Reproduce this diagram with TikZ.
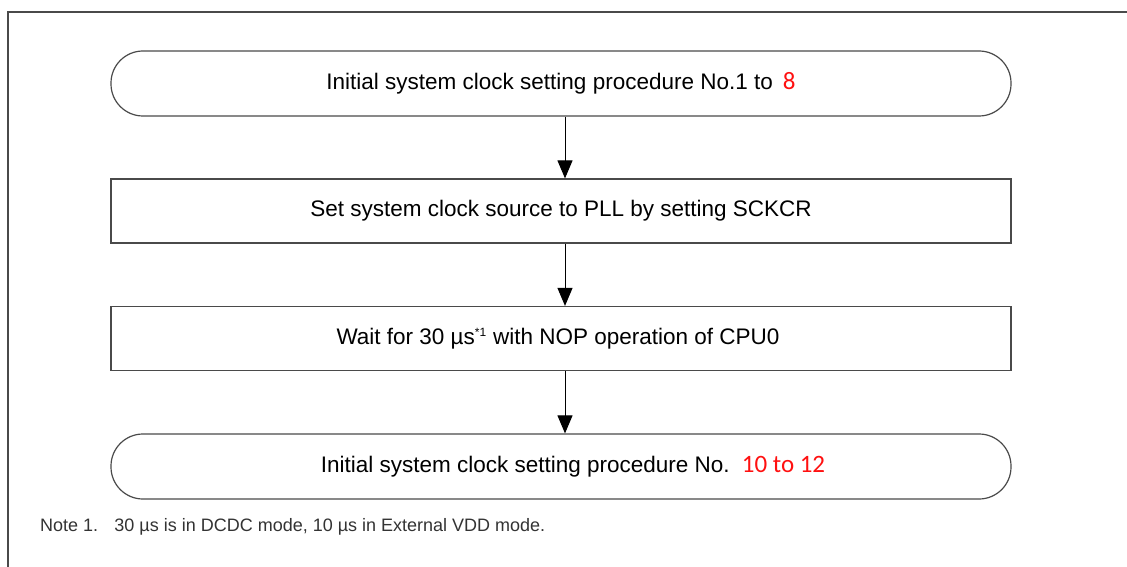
\documentclass[tikz,border=0pt]{standalone}
\usepackage{fontspec}
\setmainfont{Liberation Sans}
\newfontfamily\calib{Carlito}
\usetikzlibrary{arrows.meta}
\definecolor{lineg}{HTML}{4A4A4A}
\definecolor{redtxt}{HTML}{FF1010}
\begin{document}
\begin{tikzpicture}[x=1pt,y=-1pt,
  term/.style={draw=lineg, line width=1.2pt, rectangle, rounded corners=32pt,
    minimum width=900pt, minimum height=65pt, inner sep=0pt,
    font=\fontsize{22.5}{26}\selectfont},
  stepbox/.style={draw=lineg, line width=1.2pt, rectangle,
    minimum width=900pt, minimum height=64pt, inner sep=0pt,
    font=\fontsize{22.5}{26}\selectfont},
  flow/.style={draw=black, line width=1pt, -{Triangle[length=18pt,width=15pt]}}]
\useasboundingbox (0,0) rectangle (1127,567);
\coordinate (fl) at (8,567);
\coordinate (ftl) at (8,12);
\coordinate (fr) at (1127,12);
\draw[lineg, line width=1.2pt] (fl) -- (ftl) -- (fr);
\node[term] (a) at (561,83.5) {Initial system clock setting procedure No.1 to \,{\calib\fontsize{25}{27}\selectfont\color{redtxt}8}};
\node[stepbox] (b) at (561,211) {Set system clock source to PLL by setting SCKCR};
\node[stepbox] (c) at (561,338.5) {\hspace{-6pt}Wait for 30 µs\textsuperscript{\fontsize{12}{12}\selectfont *1} with NOP operation of CPU0};
\node[term] (d) at (561,466.5) {\hspace{24pt}Initial system clock setting procedure No. \,{\calib\fontsize{25}{27}\selectfont\color{redtxt}10 to 12}};
\draw[flow] (a.south -| 565,0) -- (b.north -| 565,0);
\draw[flow] (b.south -| 565,0) -- (c.north -| 565,0);
\draw[flow] (c.south -| 565,0) -- (d.north -| 565,0);
\node[anchor=west, inner sep=0pt, font=\fontsize{18}{20}\selectfont, text=black!80] (n) at (40,527) {Note 1.\hspace{0.9em}30 µs is in DCDC mode, 10 µs in External VDD mode.};
\end{tikzpicture}
\end{document}
